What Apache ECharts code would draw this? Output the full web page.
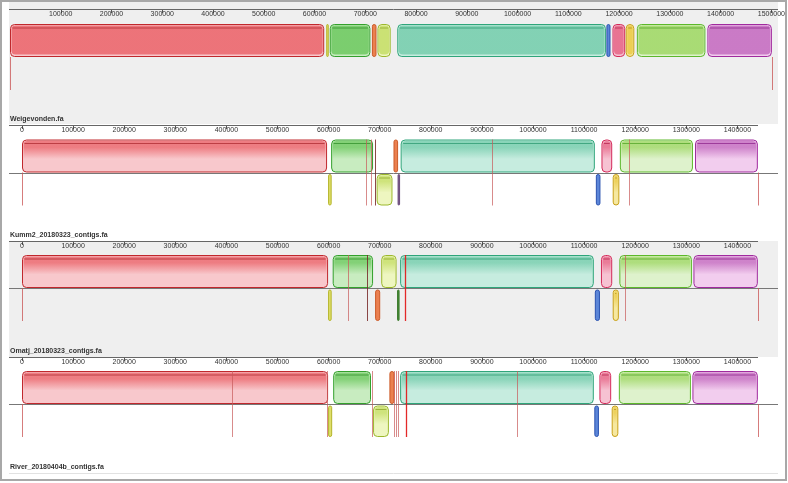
<!DOCTYPE html>
<html><head><meta charset="utf-8">
<script src="https://cdn.jsdelivr.net/npm/echarts@6/dist/echarts.min.js"></script>
<style>html,body{margin:0;padding:0;background:#fff}#c{width:788px;height:483px}</style>
</head><body><div id="c"></div>
<script>
// ---------- data ----------
const genomeNames = ['Weigevonden.fa', 'Kumm2_20180323_contigs.fa', 'Omatj_20180323_contigs.fa', 'River_20180404b_contigs.fa'];
const genomeLengths = [1503000, 1440000, 1440000, 1440000];
const ticksTop = [100000, 200000, 300000, 400000, 500000, 600000, 700000, 800000, 900000, 1000000, 1100000, 1200000, 1300000, 1400000, 1500000];
const ticksOther = [0, 100000, 200000, 300000, 400000, 500000, 600000, 700000, 800000, 900000, 1000000, 1100000, 1200000, 1300000, 1400000];
// blocks: [start, end, strand (1 upper / -1 lower), LCB id]
const blocksWeigevonden = [[0,619000,1,0],[623000,628000,1,1],[630000,710000,1,2],[713000,722000,1,3],[724000,750000,1,4],[763000,1174000,1,5],[1175000,1183000,1,6],[1187000,1212000,1,7],[1213000,1230000,1,8],[1235000,1370000,1,9],[1374000,1501000,1,10]];
const blocksKumm2 = [[0,597000,1,0],[605000,687000,1,2],[727000,736000,1,3],[741000,1121000,1,5],[1134000,1155000,1,7],[1170000,1313000,1,9],[1317000,1440000,1,10],
  [599000,606000,-1,1],[694000,725000,-1,4],[735000,738000,-1,11],[1123000,1132000,-1,6],[1156000,1169000,-1,8]];
const blocksOmatj = [[0,599000,1,0],[608000,687000,1,2],[703000,733000,1,4],[740000,1119000,1,5],[1133000,1155000,1,7],[1169000,1311000,1,9],[1314000,1440000,1,10],
  [599000,606000,-1,1],[691000,701000,-1,3],[734000,737000,-1,12],[1121000,1131000,-1,6],[1156000,1168000,-1,8]];
const blocksRiver = [[0,599000,1,0],[609000,683000,1,2],[719000,729000,1,3],[740000,1119000,1,5],[1130000,1153000,1,7],[1168000,1309000,1,9],[1312000,1440000,1,10],
  [599000,607000,-1,1],[687000,718000,-1,4],[1120000,1129000,-1,6],[1154000,1167000,-1,8]];
// boundaries: [position, kind] kind 0 = genome end, 1 = contig, 2 = bright, 3 = dark
const linesWeigevonden = [[0,0],[1501000,0]];
const linesKumm2 = [[0,0],[673000,1],[682000,1],[691000,3],[920000,1],[1188000,1],[1440000,0]];
const linesOmatj = [[0,0],[637000,1],[675000,3],[750000,2],[1181000,1],[1440000,0]];
const linesRiver = [[0,0],[410000,1],[596000,1],[684000,1],[728000,1],[732000,1],[736000,1],[751000,2],[968000,1],[1440000,0]];

// ---------- styles ----------
const lcbColors = [
  {b:'#c0282d', l:'#f8c8cc', m:'#ec6f75', d:'#a8242a'},
  {b:'#b5b52a', l:'#f2f2a8', m:'#dede6a', d:'#9a9a20'},
  {b:'#33a02c', l:'#c8ecc0', m:'#77cc6a', d:'#2a8a24'},
  {b:'#cc5a28', l:'#f7b890', m:'#eb8050', d:'#b04a20'},
  {b:'#9cb82c', l:'#eef6c0', m:'#c9e070', d:'#88a020'},
  {b:'#2fa57a', l:'#c6ecdf', m:'#7fd0b2', d:'#23946a'},
  {b:'#2a52b0', l:'#a8c0f0', m:'#5c86d8', d:'#203f90'},
  {b:'#d42a5a', l:'#f6c2d2', m:'#e8708f', d:'#b01e48'},
  {b:'#c8a018', l:'#f6e8a0', m:'#eccd50', d:'#a88410'},
  {b:'#5cb82a', l:'#def2cc', m:'#a6da70', d:'#48a020'},
  {b:'#a02a9e', l:'#f2cdee', m:'#c876c4', d:'#8a1e88'},
  {b:'#6a4a7a', l:'#8a6a9a', m:'#7a5a8a', d:'#5a3a6a'},
  {b:'#3a7a2a', l:'#5a9a4a', m:'#4a8a3a', d:'#2a6a1a'}
];
const lineColors = ['rgba(200,80,80,0.75)', 'rgba(200,90,90,0.7)', 'rgba(225,30,30,0.95)', 'rgba(120,40,40,0.85)'];
const panelLeft = [10, 22, 22, 22];
const panelTop = [24, 139.5, 255, 371];
const axisY = [9, 125, 241, 357];
const pxPerBp = 0.000511;
const blockSets = [blocksWeigevonden, blocksKumm2, blocksOmatj, blocksRiver];
const lineSets = [linesWeigevonden, linesKumm2, linesOmatj, linesRiver];

function blockRender(panel) {
  return function (params, api) {
    const s = api.value(0), e = api.value(1), strand = api.value(2), id = api.value(3);
    const c = lcbColors[id];
    const a = api.coord([s, strand > 0 ? 1 : 0]);
    const b = api.coord([e, strand > 0 ? 0 : -1]);
    let x = a[0] + 0.5, y = a[1] + 0.5, w = Math.max(b[0] - a[0] - 1, 1.5), h = b[1] - a[1] - 1;
    if (strand < 0) { y += 1.5; h -= 1.5; }
    const r = Math.min(4, w / 2);
    const children = [];
    if (w < 5) {
      children.push({type:'rect', shape:{x, y, width:w, height:h, r}, style:{fill:c.m, stroke:c.b, lineWidth:1}});
      return {type:'group', children};
    }
    children.push({type:'rect', shape:{x, y, width:w, height:h, r}, style:{fill:c.l, stroke:null}});
    const depth = panel === 0 ? 0.97 : 0.6;
    const top = c.m;
    const bot = panel === 0 ? c.m : c.l;
    children.push({type:'rect', shape:{x:x+1, y:y+1, width:w-2, height:(h-2)*depth, r:[r,r,panel===0?r:0,panel===0?r:0]},
      style:{fill:new echarts.graphic.LinearGradient(0,0,0,1,[{offset:0,color:top},{offset:0.35,color:top},{offset:1,color:bot}]), opacity: panel===0?0.95:0.85}});
    children.push({type:'line', shape:{x1:x+2, y1:y+3.5, x2:x+w-2, y2:y+3.5}, style:{stroke:c.d, lineWidth:1, opacity:0.7}});
    children.push({type:'rect', shape:{x, y, width:w, height:h, r}, style:{fill:null, stroke:c.b, lineWidth:1}});
    return {type:'group', children};
  };
}
function lineRender(params, api) {
  const pos = api.value(0), kind = api.value(1);
  const p = api.coord([pos, kind === 0 ? 0 : 1]);
  const q = api.coord([pos, -1]);
  const x = Math.round(p[0]) + 0.5;
  return {type:'line', shape:{x1:x, y1:p[1], x2:x, y2:q[1]}, style:{stroke:lineColors[kind], lineWidth: kind === 2 ? 1.3 : 1}};
}

const grids = [], xAxes = [], yAxes = [], series = [];
for (let i = 0; i < 4; i++) {
  grids.push({left: panelLeft[i], top: panelTop[i], width: genomeLengths[i] * pxPerBp, height: 66});
  const ticks = i === 0 ? ticksTop : ticksOther;
  xAxes.push({gridIndex:i, type:'value', position:'top', min:0, max:genomeLengths[i], offset: panelTop[i] - axisY[i],
    axisLine:{show:false, onZero:false},
    axisTick:{show:true, inside:true, length:4, customValues:ticks, lineStyle:{color:'#555', width:1}},
    axisLabel:{show:true, inside:true, margin:2, customValues:ticks, fontSize:7, color:'#333', fontFamily:'Liberation Sans',
      hideOverlap:false, showMinLabel:true, showMaxLabel:true, formatter: v => String(v)},
    splitLine:{show:false}});
  yAxes.push({gridIndex:i, type:'value', min:-1, max:1, show:false});
  series.push({type:'custom', xAxisIndex:i, yAxisIndex:i, renderItem: blockRender(i), data: blockSets[i], clip:false, z:2, silent:true});
  series.push({type:'custom', xAxisIndex:i, yAxisIndex:i, renderItem: lineRender, data: lineSets[i], clip:false, z:3, silent:true});
}

const graphics = [
  {type:'rect', shape:{x:9, y:2, width:769, height:122}, style:{fill:'#efefef'}, z:-10},
  {type:'rect', shape:{x:9, y:241, width:769, height:116}, style:{fill:'#efefef'}, z:-10},
  {type:'line', shape:{x1:9, y1:473.5, x2:778, y2:473.5}, style:{stroke:'#e2e2e2', lineWidth:1}, z:-5},
  {type:'rect', shape:{x:1, y:1, width:785, height:479}, style:{fill:null, stroke:'#a8a8a8', lineWidth:2}, z:20}
];
for (let i = 0; i < 4; i++) {
  graphics.push({type:'line', shape:{x1:9, y1:axisY[i] + 0.5, x2: i === 0 ? 778 : 758, y2:axisY[i] + 0.5}, style:{stroke:'#666', lineWidth:1}, z:1});
  if (i > 0) {
    const cy = panelTop[i] + 33;
    graphics.push({type:'line', shape:{x1:9, y1:Math.round(cy) + 0.5, x2:778, y2:Math.round(cy) + 0.5}, style:{stroke:'#777', lineWidth:1}, z:-5});
  }
  graphics.push({type:'text', x:10, y:axisY[i] + 110, style:{text:genomeNames[i], fill:'#333', font:'bold 7px "Liberation Sans"', verticalAlign:'middle'}, z:1});
}

const chart = echarts.init(document.getElementById('c'), null, {renderer:'canvas'});
chart.setOption({animation:false, backgroundColor:'#fff', grid:grids, xAxis:xAxes, yAxis:yAxes, series, graphic:{elements:graphics}});
</script></body></html>
